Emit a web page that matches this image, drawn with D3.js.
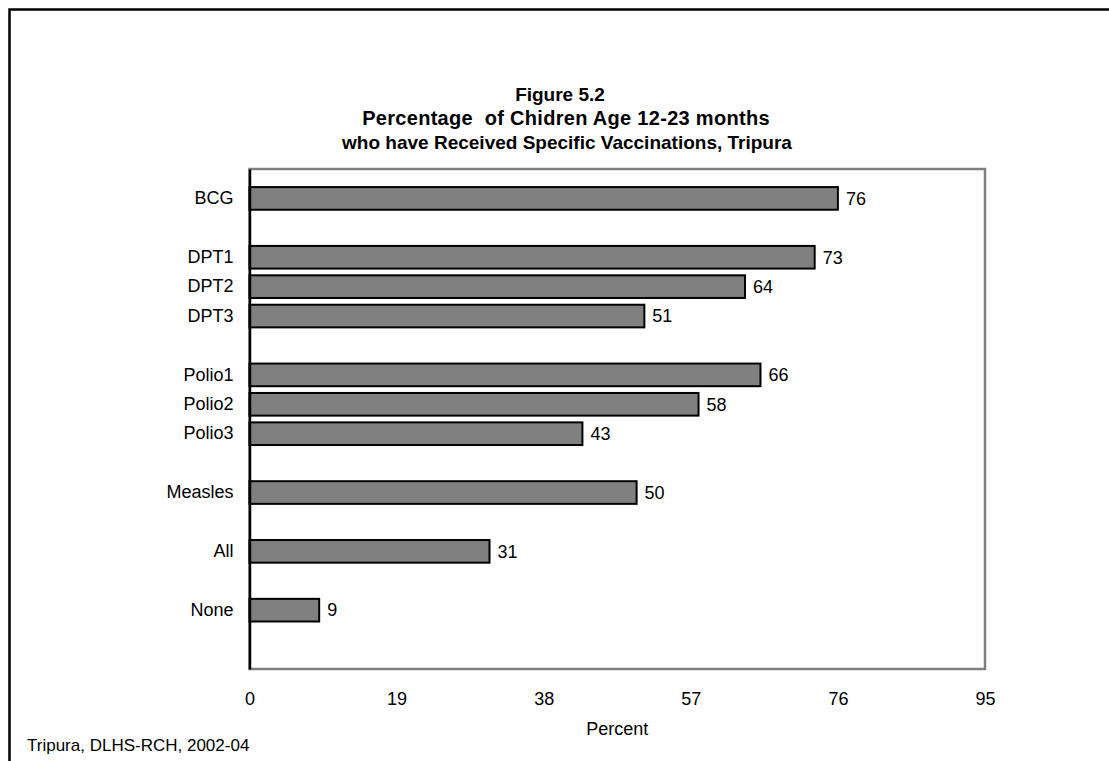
<!DOCTYPE html>
<html>
<head>
<meta charset="utf-8">
<script src="https://d3js.org/d3.v7.min.js"></script>
<style>
  body { margin: 0; background: #fff; }
  svg text { font-family: Arial, "Liberation Sans", sans-serif; fill: #000; }
  .title { font-size: 19px; font-weight: bold; }
  .title.wide { font-size: 20px; letter-spacing: 0.3px; }
  .lbl { font-size: 18px; }
</style>
</head>
<body>
<div id="chart"></div>
<script>
// rows of the chart, "" = empty spacer row
var rows = ["BCG", "", "DPT1", "DPT2", "DPT3", "", "Polio1", "Polio2", "Polio3", "", "Measles", "", "All", "", "None", ""];
var categories = ["BCG", "DPT1", "DPT2", "DPT3", "Polio1", "Polio2", "Polio3", "Measles", "All", "None"];
var values = [76, 73, 64, 51, 66, 58, 43, 50, 31, 9];
var xTicks = [0, 19, 38, 57, 76, 95];
var titleLines = ["Figure 5.2", "Percentage  of Chidren Age 12-23 months", "who have Received Specific Vaccinations, Tripura"];

var dim = {
  width: 1109,
  height: 761,
  left: 249.5,
  right: 985,
  top: 169,
  bottom: 669
};

var svg = d3.select("#chart").append("svg")
  .attr("width", dim.width)
  .attr("height", dim.height);

// outer frame (top and left edges visible)
svg.append("path")
  .attr("d", "M9.5," + dim.height + "V9.5H" + (dim.width + 2))
  .attr("fill", "none")
  .attr("stroke", "#000")
  .attr("stroke-width", 2.5);

// title
var titleX = [560, 566, 567];
titleLines.forEach(function(t, i) {
  svg.append("text")
    .attr("class", i == 1 ? "title wide" : "title")
    .attr("x", titleX[i])
    .attr("y", 101 + i * 24)
    .attr("text-anchor", "middle")
    .style("white-space", "pre")
    .text(t);
});

var x = d3.scaleLinear()
  .domain([0, 95])
  .range([dim.left, dim.right]);

var y = d3.scaleBand()
  .domain(d3.range(rows.length))
  .range([dim.top, dim.bottom])
  .paddingInner(0.23)
  .paddingOuter(0.615);

// plot area border
svg.append("rect")
  .attr("x", dim.left)
  .attr("y", dim.top)
  .attr("width", dim.right - dim.left)
  .attr("height", dim.bottom - dim.top)
  .attr("fill", "none")
  .attr("stroke", "#808080")
  .attr("stroke-width", 2.5);

var data = categories.map(function(c, i) {
  return { cat: c, val: values[i], row: rows.indexOf(c) };
});

svg.selectAll("rect.bar")
  .data(data)
  .enter().append("rect")
  .attr("class", "bar")
  .attr("x", x(0))
  .attr("y", function(d) { return y(d.row); })
  .attr("width", function(d) { return x(d.val) - x(0); })
  .attr("height", y.bandwidth())
  .attr("fill", "#808080")
  .attr("stroke", "#000")
  .attr("stroke-width", 2);

svg.selectAll("text.val")
  .data(data)
  .enter().append("text")
  .attr("class", "lbl val")
  .attr("x", function(d) { return x(d.val) + 8; })
  .attr("y", function(d) { return y(d.row) + y.bandwidth() / 2; })
  .attr("dy", "0.35em")
  .text(function(d) { return d.val; });

// category axis
var yAxis = svg.append("g")
  .attr("transform", "translate(" + dim.left + ",0)")
  .call(d3.axisLeft(y)
    .tickSize(0)
    .tickPadding(16)
    .tickFormat(function(i) { return rows[i]; }));
yAxis.select(".domain").attr("stroke", "#000").attr("stroke-width", 2.5);
yAxis.selectAll("text").attr("class", "lbl").style("font-size", "18px");

// value axis (labels only)
var xAxis = svg.append("g")
  .attr("transform", "translate(0," + dim.bottom + ")")
  .call(d3.axisBottom(x)
    .tickValues(xTicks)
    .tickSize(0)
    .tickPadding(23));
xAxis.select(".domain").remove();
xAxis.selectAll("text").attr("class", "lbl").style("font-size", "18px");

svg.append("text")
  .attr("class", "lbl")
  .attr("x", (dim.left + dim.right) / 2)
  .attr("y", 735)
  .attr("text-anchor", "middle")
  .text("Percent");

svg.append("text")
  .attr("class", "lbl")
  .attr("x", 27)
  .attr("y", 751)
  .style("font-size", "17px")
  .text("Tripura, DLHS-RCH, 2002-04");
</script>
</body>
</html>
